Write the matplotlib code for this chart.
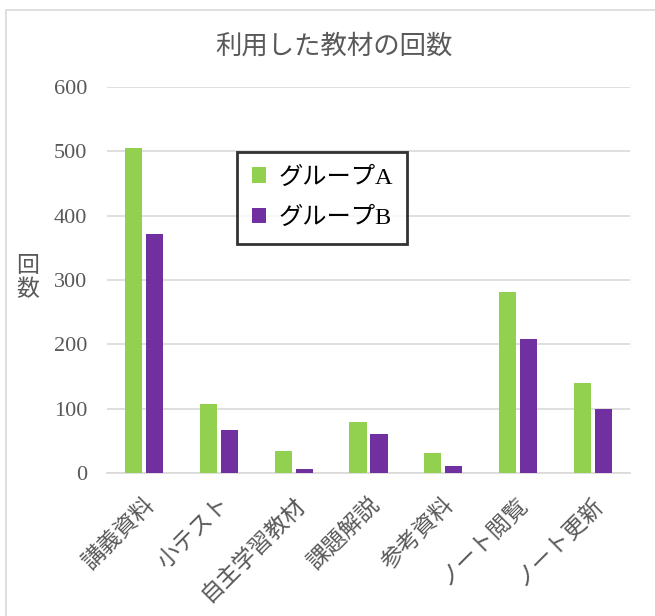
import matplotlib
matplotlib.use('Agg')
import matplotlib.pyplot as plt
from matplotlib.patches import Rectangle
import numpy as np

categories = ['講義資料', '小テスト', '自主学習教材', '課題解説', '参考資料', 'ノート閲覧', 'ノート更新']
group_a = [505, 107, 34, 79, 31, 282, 140]
group_b = [372, 67, 7, 60, 11, 208, 99]
series_names = ['グループA', 'グループB']
yticks = [0, 100, 200, 300, 400, 500, 600]

FONTS = ['Liberation Serif', 'Noto Sans CJK JP', 'DejaVu Sans']
plt.rcParams['font.family'] = FONTS
TEXT = '#595959'

fig = plt.figure(figsize=(6.55, 6.16), dpi=100)
ax = fig.add_axes([0.163, 0.232, 0.799, 0.627])

# outer chart frame
fig.patches.append(Rectangle((6 / 655, -0.05), 1.2, 1 - 10 / 616 + 0.05,
                             transform=fig.transFigure, fill=False,
                             edgecolor='#D9D9D9', linewidth=1.2))

x = np.arange(len(categories))
w = 0.23
ax.bar(x - w / 2 - 0.025, group_a, w, color='#92D050', label=series_names[0], zorder=3)
ax.bar(x + w / 2 + 0.025, group_b, w, color='#7030A0', label=series_names[1], zorder=3)

ax.set_xlim(-0.5, len(categories) - 0.5)
ax.set_ylim(0, 600)
ax.set_yticks(yticks)
ax.set_yticklabels([str(v) for v in yticks], fontsize=16, color=TEXT)
ax.grid(axis='y', color='#D9D9D9', linewidth=1.2, zorder=0)
for s in ['top', 'right', 'left']:
    ax.spines[s].set_visible(False)
ax.spines['bottom'].set_color('#D9D9D9')
ax.spines['bottom'].set_linewidth(1.2)
ax.tick_params(axis='both', length=0)
ax.tick_params(axis='y', pad=14)

ax.set_xticks(x)
ax.set_xticklabels(categories, rotation=45, ha='right', va='top',
                   rotation_mode='anchor', fontsize=16.5, color=TEXT)
ax.tick_params(axis='x', pad=15)

fig.text(0.51, 0.925, '利用した教材の回数', ha='center', va='center',
         fontsize=19, color=TEXT)
fig.text(0.042, 0.548, '回\n数', ha='center', va='center', fontsize=16.5,
         color=TEXT, linespacing=1.15)

leg = ax.legend(loc='upper left', bbox_to_anchor=(0.249, 0.832),
                borderaxespad=0, fontsize=17.5, frameon=True, fancybox=False,
                handlelength=0.6, handleheight=0.6, handletextpad=0.5,
                labelspacing=0.75, borderpad=0.6)
leg.get_frame().set_edgecolor('black')
leg.get_frame().set_linewidth(2)
for t in leg.get_texts():
    t.set_color('black')

fig.savefig('out.png', dpi=100)
